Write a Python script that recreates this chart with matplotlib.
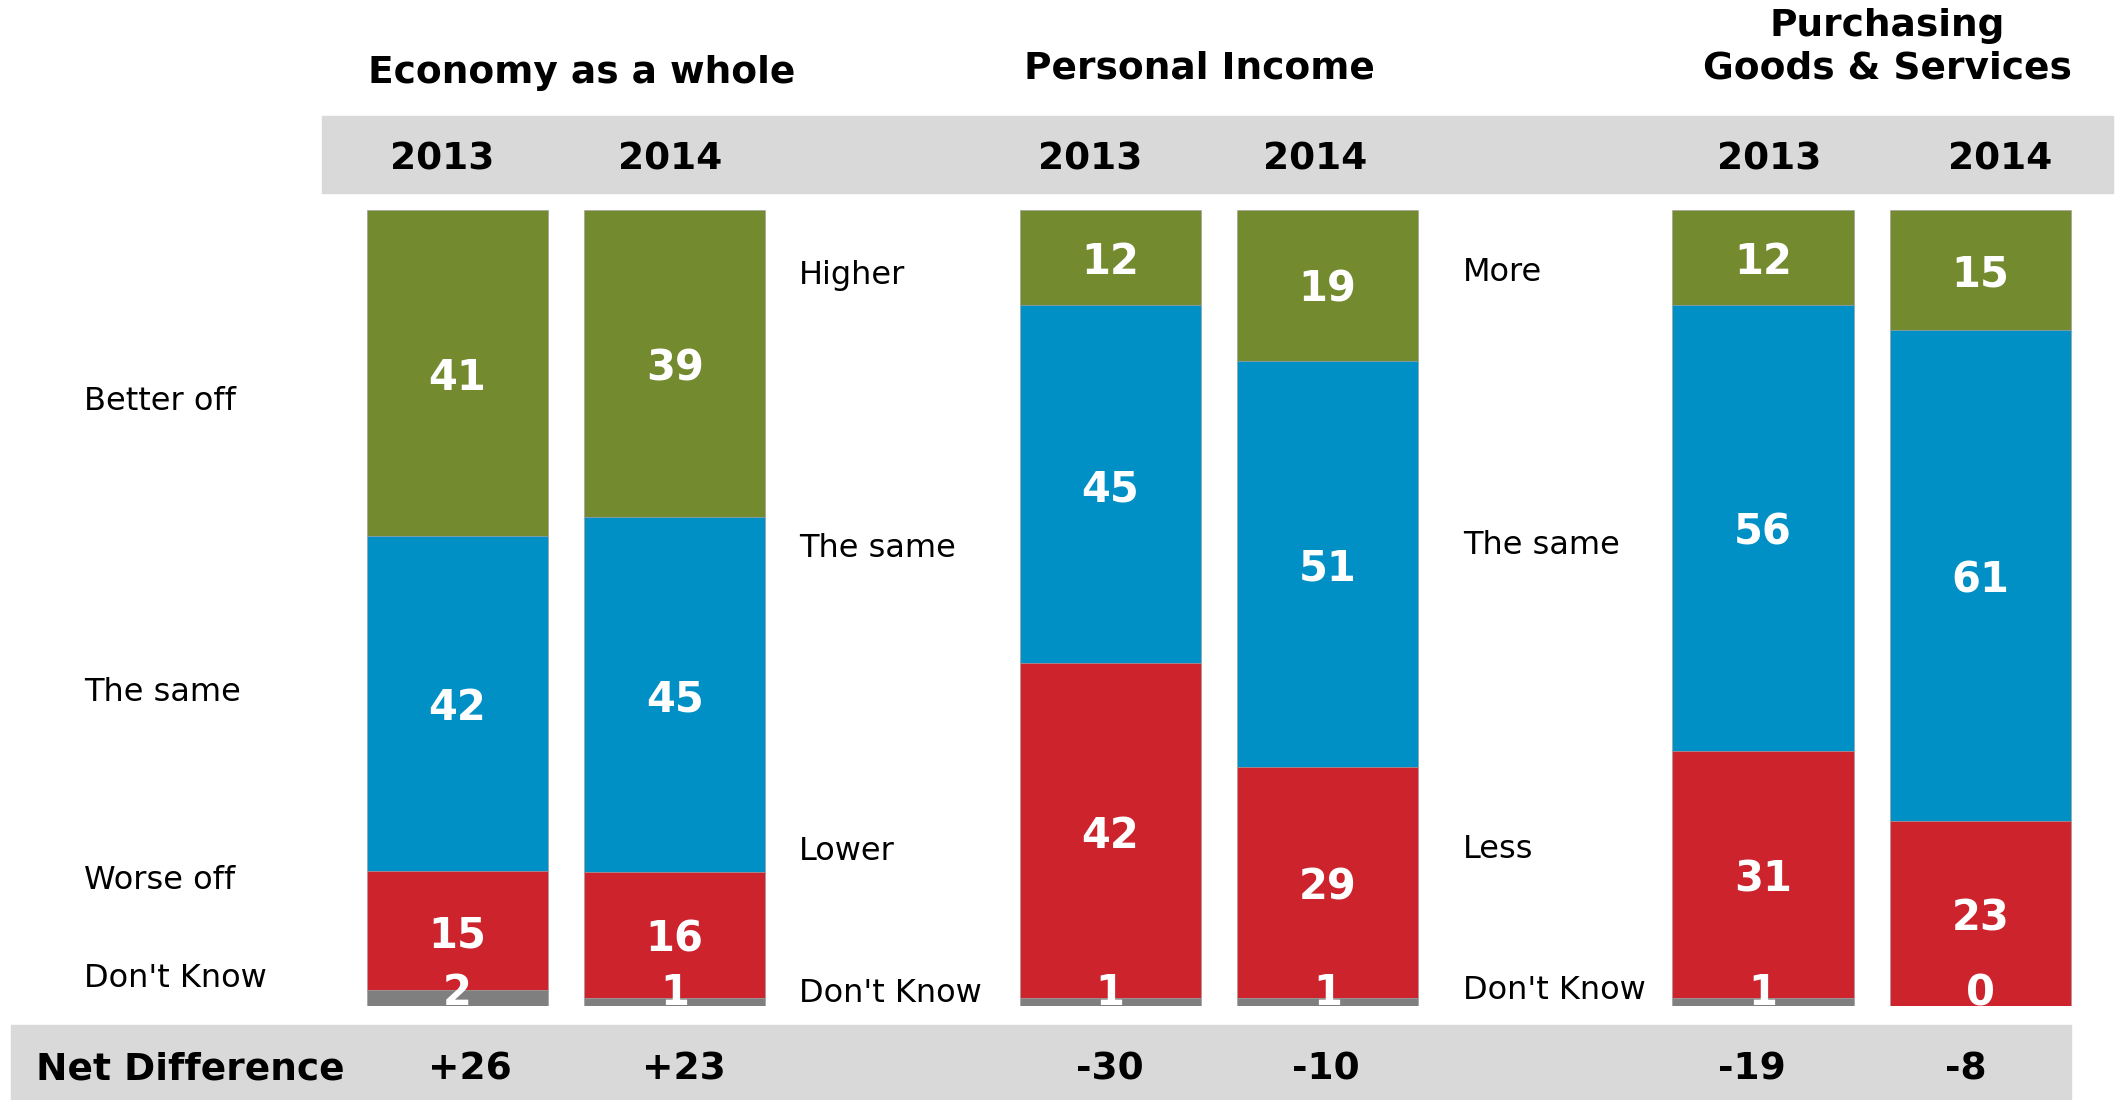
import matplotlib.pyplot as plt
import matplotlib.transforms as mtransforms
from matplotlib.patches import Rectangle
import numpy as np

# ---- data ----
groups = ['Economy as a whole', 'Personal Income', 'Purchasing\nGoods & Services']
years = ['2013', '2014']
# per bar: top (positive), same, bottom (negative), don't know
positive = [41, 39, 12, 19, 12, 15]
same = [42, 45, 45, 51, 56, 61]
negative = [15, 16, 42, 29, 31, 23]
dont_know = [2, 1, 1, 1, 1, 0]
net_diff = ['+26', '+23', '-30', '-10', '-19', '-8']

left_labels = ['Better off', 'The same', 'Worse off', "Don't Know"]
mid_labels = ['Higher', 'The same', 'Lower', "Don't Know"]
right_labels = ['More', 'The same', 'Less', "Don't Know"]

colors = ['#738A2F', '#0090C6', '#CC232C', '#7F7F7F']
band_color = '#D9D9D9'

plt.rcParams['font.family'] = 'DejaVu Sans'

fig = plt.figure(figsize=(21.2, 11), dpi=100)

# grey bands (behind everything)
fig.patches.append(Rectangle((0.1518, 0.8242), 0.845, 0.0701, transform=fig.transFigure,
                             color=band_color, zorder=-5))
fig.patches.append(Rectangle((0.0051, 0.0), 0.972, 0.0683, transform=fig.transFigure,
                             color=band_color, zorder=-5))

ax = fig.add_axes([0, 0.0855, 1, 0.724])
ax.set_xlim(-2.1, 7.64)
ax.set_ylim(100, 0)
ax.axis('off')

xpos = np.array([0, 1, 3, 4, 6, 7])
series = np.array([positive, same, negative, dont_know], dtype=float)
totals = series.sum(axis=0)
shares = series / totals * 100

bottom = np.zeros(len(xpos))
for i in range(len(series)):
    ax.bar(xpos, shares[i], bottom=bottom, width=0.832, color=colors[i],
           edgecolor='#9a9a9a', linewidth=0.4)
    for x, b, h, v in zip(xpos, bottom, shares[i], series[i]):
        ty = min(b + h / 2 + 0.6, 98.4)
        ax.text(x, ty, f'{int(v)}', ha='center', va='center', color='white',
                fontsize=30, fontweight='bold', clip_on=True)
    bottom += shares[i]

# row labels
label_sets = [(-1.714, left_labels, [24.1, 60.6, 84.3, 96.6]),
              (1.571, mid_labels, [8.3, 42.6, 80.6, 98.4]),
              (4.62, right_labels, [7.9, 42.2, 80.3, 98.1])]
for lx, labels, ys in label_sets:
    for lab, ly in zip(labels, ys):
        ax.text(lx, ly, lab, ha='left', va='center', fontsize=23, color='black')

trans = mtransforms.blended_transform_factory(ax.transData, fig.transFigure)

# group titles
title_x = [0.571, 3.41, 6.57]
title_y = [0.9336, 0.9373, 0.957]
for t, tx, ty in zip(groups, title_x, title_y):
    ax.text(tx, ty, t, transform=trans, ha='center', va='center', fontsize=27,
            fontweight='bold', linespacing=1.2, clip_on=False)

# year headers and net differences
year_off = [-0.07, -0.02, -0.09, -0.06, 0.03, 0.09]
net_off = [0.06, 0.04, 0.0, -0.01, -0.05, -0.07]
for k, x in enumerate(xpos):
    ax.text(x + year_off[k], 0.855, years[k % 2], transform=trans, ha='center', va='center',
            fontsize=27, fontweight='bold', clip_on=False)
    ax.text(x + net_off[k], 0.028, net_diff[k], transform=trans, ha='center', va='center',
            fontsize=27, fontweight='bold', clip_on=False)

fig.text(0.0172, 0.028, 'Net Difference', ha='left', va='center', fontsize=27,
         fontweight='bold')

fig.savefig('out.png', dpi=100)
